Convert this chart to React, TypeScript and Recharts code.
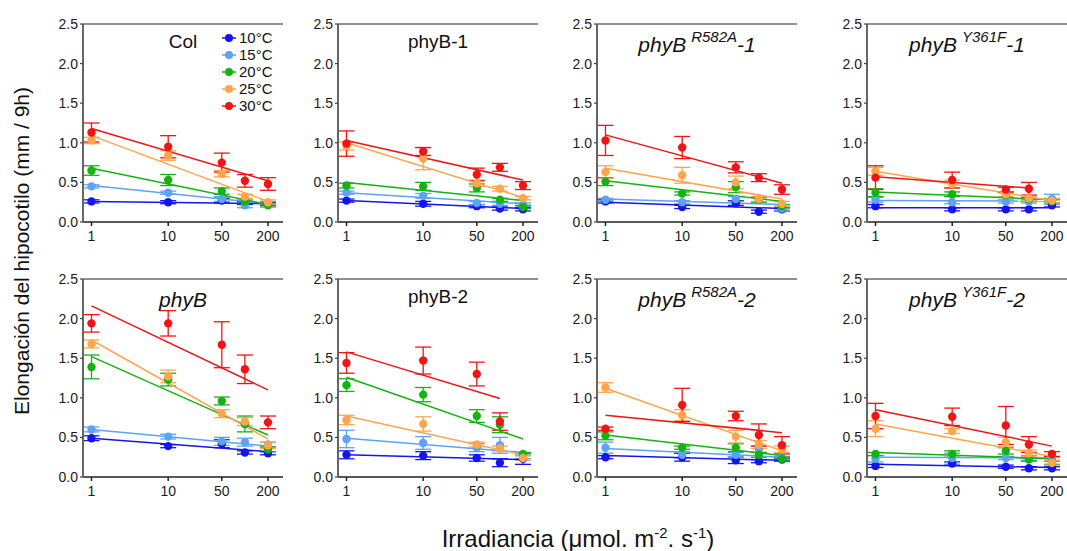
import React from 'react';
import { ComposedChart, Scatter, Line, XAxis, YAxis, ErrorBar, ReferenceLine } from 'recharts';

// ---------- shared categories ----------
const irradiance = [1, 10, 50, 100, 200];
const xTicks = [1, 10, 50, 200];
const yTicks = [0, 0.5, 1, 1.5, 2, 2.5];
const temperatures = ['10°C', '15°C', '20°C', '25°C', '30°C'];
const seriesColors = ['#1414f0', '#5ea2f2', '#12b312', '#ffa54d', '#f21414'];

// ---------- Col ----------
const colMeans = [
  [0.26, 0.25, 0.27, 0.24, 0.23],
  [0.45, 0.37, 0.29, 0.21, 0.24],
  [0.65, 0.53, 0.39, 0.26, 0.21],
  [1.03, 0.84, 0.61, 0.32, 0.25],
  [1.13, 0.95, 0.75, 0.52, 0.48],
];
const colErrors = [
  [0.02, 0.02, 0.03, 0.02, 0.02],
  [0.02, 0.02, 0.03, 0.03, 0.02],
  [0.06, 0.07, 0.04, 0.03, 0.02],
  [0.04, 0.06, 0.04, 0.03, 0.03],
  [0.12, 0.14, 0.12, 0.08, 0.08],
];
const colFits = [[0.26, 0.23], [0.46, 0.23], [0.68, 0.22], [1.09, 0.26], [1.18, 0.52]];
const colFitEnds = [200, 200, 200, 200, 200];

// ---------- phyB-1 ----------
const phyB1Means = [
  [0.27, 0.23, 0.2, 0.17, 0.16],
  [0.37, 0.33, 0.24, 0.23, 0.22],
  [0.46, 0.45, 0.43, 0.28, 0.19],
  [0.96, 0.8, 0.49, 0.42, 0.3],
  [0.99, 0.89, 0.6, 0.69, 0.46],
];
const phyB1Errors = [
  [0.02, 0.03, 0.02, 0.02, 0.02],
  [0.02, 0.03, 0.02, 0.02, 0.02],
  [0.03, 0.05, 0.05, 0.02, 0.02],
  [0.05, 0.14, 0.04, 0.03, 0.02],
  [0.16, 0.05, 0.08, 0.05, 0.05],
];
const phyB1Fits = [[0.27, 0.17], [0.37, 0.23], [0.5, 0.27], [1.0, 0.31], [1.03, 0.53]];
const phyB1FitEnds = [200, 200, 200, 200, 200];

// ---------- phyB R582A-1 ----------
const r582a1Means = [
  [0.26, 0.19, 0.24, 0.13, 0.16],
  [0.28, 0.25, 0.29, 0.28, 0.17],
  [0.51, 0.36, 0.44, 0.28, 0.2],
  [0.63, 0.59, 0.5, 0.29, 0.23],
  [1.03, 0.94, 0.69, 0.56, 0.41],
];
const r582a1Errors = [
  [0.02, 0.02, 0.03, 0.02, 0.02],
  [0.02, 0.02, 0.03, 0.03, 0.02],
  [0.05, 0.02, 0.07, 0.03, 0.02],
  [0.08, 0.1, 0.08, 0.03, 0.03],
  [0.19, 0.14, 0.07, 0.05, 0.06],
];
const r582a1Fits = [[0.25, 0.17], [0.29, 0.22], [0.52, 0.26], [0.68, 0.29], [1.1, 0.49]];
const r582a1FitEnds = [200, 200, 200, 200, 200];

// ---------- phyB Y361F-1 ----------
const y361f1Means = [
  [0.2, 0.16, 0.16, 0.16, 0.21],
  [0.28, 0.25, 0.26, 0.26, 0.29],
  [0.37, 0.35, 0.34, 0.29, 0.26],
  [0.64, 0.48, 0.35, 0.3, 0.27],
  [0.56, 0.53, 0.41, 0.42, null],
];
const y361f1Errors = [
  [0.02, 0.02, 0.02, 0.02, 0.02],
  [0.03, 0.02, 0.02, 0.02, 0.06],
  [0.05, 0.03, 0.03, 0.02, 0.02],
  [0.05, 0.05, 0.03, 0.03, 0.03],
  [0.15, 0.1, 0.03, 0.08, null],
];
const y361f1Fits = [[0.18, 0.18], [0.27, 0.265], [0.38, 0.28], [0.64, 0.27], [0.57, 0.43]];
const y361f1FitEnds = [200, 200, 200, 200, 100];

// ---------- phyB ----------
const phyBMeans = [
  [0.49, 0.39, 0.42, 0.31, 0.3],
  [0.6, 0.51, 0.45, 0.44, 0.41],
  [1.39, 1.23, 0.96, 0.67, 0.35],
  [1.68, 1.27, 0.8, 0.7, 0.4],
  [1.94, 1.94, 1.67, 1.36, 0.69],
];
const phyBErrors = [
  [0.03, 0.02, 0.05, 0.02, 0.02],
  [0.03, 0.03, 0.05, 0.05, 0.03],
  [0.15, 0.08, 0.05, 0.1, 0.03],
  [0.05, 0.08, 0.05, 0.05, 0.04],
  [0.11, 0.16, 0.29, 0.18, 0.08],
];
const phyBFits = [[0.49, 0.32], [0.6, 0.39], [1.52, 0.53], [1.73, 0.48], [2.16, 1.1]];
const phyBFitEnds = [200, 200, 200, 200, 200];

// ---------- phyB-2 ----------
const phyB2Means = [
  [0.28, 0.27, 0.24, 0.18, 0.23],
  [0.48, 0.43, 0.37, 0.4, 0.26],
  [1.16, 1.04, 0.77, 0.66, 0.29],
  [0.72, 0.67, 0.41, 0.36, 0.24],
  [1.44, 1.47, 1.3, 0.7, null],
];
const phyB2Errors = [
  [0.05, 0.05, 0.04, 0.05, 0.07],
  [0.11, 0.08, 0.05, 0.1, 0.03],
  [0.08, 0.09, 0.08, 0.1, 0.02],
  [0.06, 0.09, 0.03, 0.03, 0.03],
  [0.13, 0.17, 0.15, 0.11, null],
];
const phyB2Fits = [[0.28, 0.22], [0.49, 0.31], [1.26, 0.48], [0.77, 0.28], [1.58, 0.99]];
const phyB2FitEnds = [200, 200, 200, 200, 100];

// ---------- phyB R582A-2 ----------
const r582a2Means = [
  [0.25, 0.25, 0.21, 0.2, 0.22],
  [0.37, 0.28, 0.28, 0.35, 0.24],
  [0.52, 0.37, 0.37, 0.28, 0.23],
  [1.13, 0.78, 0.51, 0.41, 0.35],
  [0.61, 0.91, 0.77, 0.53, 0.4],
];
const r582a2Errors = [
  [0.02, 0.05, 0.04, 0.02, 0.02],
  [0.07, 0.04, 0.03, 0.04, 0.02],
  [0.05, 0.02, 0.05, 0.03, 0.02],
  [0.06, 0.07, 0.08, 0.05, 0.04],
  [0.02, 0.21, 0.06, 0.14, 0.11],
];
const r582a2Fits = [[0.27, 0.21], [0.36, 0.25], [0.53, 0.27], [1.12, 0.33], [0.78, 0.56]];
const r582a2FitEnds = [200, 200, 200, 200, 200];

// ---------- phyB Y361F-2 ----------
const y361f2Means = [
  [0.14, 0.17, 0.13, 0.11, 0.11],
  [0.23, 0.24, 0.24, 0.24, 0.23],
  [0.29, 0.29, 0.33, 0.22, 0.18],
  [0.61, 0.58, 0.44, 0.3, 0.18],
  [0.77, 0.76, 0.65, 0.41, 0.29],
];
const y361f2Errors = [
  [0.02, 0.02, 0.02, 0.02, 0.02],
  [0.04, 0.06, 0.02, 0.03, 0.02],
  [0.02, 0.04, 0.04, 0.02, 0.02],
  [0.1, 0.03, 0.06, 0.04, 0.03],
  [0.16, 0.11, 0.24, 0.1, 0.03],
];
const y361f2Fits = [[0.16, 0.12], [0.25, 0.24], [0.31, 0.23], [0.67, 0.26], [0.85, 0.39]];
const y361f2FitEnds = [200, 200, 200, 200, 200];

type Title = { main: string; sup?: string; suffix?: string; italic: boolean };

const panels = [
  { title: { main: 'Col', italic: false } as Title, means: colMeans, errors: colErrors, fits: colFits, fitEnds: colFitEnds },
  { title: { main: 'phyB-1', italic: false } as Title, means: phyB1Means, errors: phyB1Errors, fits: phyB1Fits, fitEnds: phyB1FitEnds },
  { title: { main: 'phyB', sup: 'R582A', suffix: '-1', italic: true } as Title, means: r582a1Means, errors: r582a1Errors, fits: r582a1Fits, fitEnds: r582a1FitEnds },
  { title: { main: 'phyB', sup: 'Y361F', suffix: '-1', italic: true } as Title, means: y361f1Means, errors: y361f1Errors, fits: y361f1Fits, fitEnds: y361f1FitEnds },
  { title: { main: 'phyB', italic: true } as Title, means: phyBMeans, errors: phyBErrors, fits: phyBFits, fitEnds: phyBFitEnds },
  { title: { main: 'phyB-2', italic: false } as Title, means: phyB2Means, errors: phyB2Errors, fits: phyB2Fits, fitEnds: phyB2FitEnds },
  { title: { main: 'phyB', sup: 'R582A', suffix: '-2', italic: true } as Title, means: r582a2Means, errors: r582a2Errors, fits: r582a2Fits, fitEnds: r582a2FitEnds },
  { title: { main: 'phyB', sup: 'Y361F', suffix: '-2', italic: true } as Title, means: y361f2Means, errors: y361f2Errors, fits: y361f2Fits, fitEnds: y361f2FitEnds },
];

// ---------- layout ----------
const COL_LEFT = [83, 338, 597, 867];
const ROW_TOP = [24, 279];
const PLOT_W = 200;
const PLOT_H = 198;
const Y_AXIS_W = 60;
const M_TOP = 14;
const FONT = '"Liberation Sans", Arial, Helvetica, sans-serif';

function Panel({ panel, left, top }: any) {
  const series = temperatures.map((t, s) => {
    const points = irradiance
      .map((x, i) => (panel.means[s][i] == null ? null : { x, y: panel.means[s][i], e: panel.errors[s][i] }))
      .filter(Boolean);
    const fit = [
      { x: irradiance[0], y: panel.fits[s][0] },
      { x: panel.fitEnds[s], y: panel.fits[s][1] },
    ];
    return { name: t, color: seriesColors[s], points, fit };
  });
  return (
    <div style={{ position: 'absolute', left: left - Y_AXIS_W, top: top - M_TOP }}>
      <ComposedChart
        width={Y_AXIS_W + PLOT_W + 20}
        height={M_TOP + PLOT_H + 30 + 18}
        margin={{ top: M_TOP, right: 20, bottom: 18, left: 0 }}
        style={{ fontFamily: FONT }}
      >
        <XAxis
          dataKey="x"
          type="number"
          scale="log"
          domain={[0.775, 314]}
          allowDataOverflow
          ticks={xTicks}
          interval={0}
          height={30}
          tickSize={4}
          tickMargin={5}
          tick={{ fontSize: 14, fill: '#1a1a1a', fontFamily: FONT }}
          axisLine={{ stroke: '#222', strokeWidth: 1.5 }}
          tickLine={{ stroke: '#222', strokeWidth: 1.5 }}
        />
        <YAxis
          dataKey="y"
          type="number"
          domain={[0, 2.5]}
          allowDataOverflow
          ticks={yTicks}
          interval={0}
          width={Y_AXIS_W}
          tickSize={3}
          tickMargin={2}
          tickFormatter={(v: number) => v.toFixed(1)}
          tick={{ fontSize: 14, fill: '#1a1a1a', fontFamily: FONT }}
          axisLine={{ stroke: '#666', strokeWidth: 2 }}
          tickLine={{ stroke: '#444', strokeWidth: 1.2 }}
        />
        <ReferenceLine y={2.5} stroke="#222" strokeWidth={1.2} />
        {series.map((s) => (
          <Scatter
            key={'p' + s.name}
            name={s.name}
            data={s.points}
            fill={s.color}
            isAnimationActive={false}
            shape={(p: any) => <circle cx={p.cx} cy={p.cy} r={4.2} fill={s.color} />}
          >
            <ErrorBar dataKey="e" direction="y" width={8} stroke={s.color} strokeWidth={1.3} />
          </Scatter>
        ))}
        {series.map((s) => (
          <Line
            key={'f' + s.name}
            data={s.fit}
            dataKey="y"
            type="linear"
            stroke={s.color}
            strokeWidth={1.5}
            dot={false}
            activeDot={false}
            isAnimationActive={false}
            legendType="none"
          />
        ))}
      </ComposedChart>
    </div>
  );
}

function PanelTitle({ title, cx, row }: { title: Title; cx: number; row: number }) {
  if (!title.italic) {
    return (
      <text x={cx} y={ROW_TOP[row] + 24} textAnchor="middle" fontSize={19} fill="#111">
        {title.main}
      </text>
    );
  }
  return (
    <text x={cx} y={ROW_TOP[row] + 28} textAnchor="middle" fontSize={21} fontStyle="italic" fill="#111">
      <tspan>{title.main}</tspan>
      {title.sup ? (
        <tspan dx={5} dy={-10} fontSize={15}>
          {title.sup}
        </tspan>
      ) : null}
      {title.suffix ? <tspan dy={10}>{title.suffix}</tspan> : null}
    </text>
  );
}

export default function App() {
  return (
    <div style={{ position: 'absolute', left: 0, top: 0, width: 1067, height: 551, background: '#fff', fontFamily: FONT }}>
      {panels.map((p, i) => (
        <Panel key={i} panel={p} left={COL_LEFT[i % 4]} top={ROW_TOP[Math.floor(i / 4)]} />
      ))}
      <svg width={1067} height={551} style={{ position: 'absolute', left: 0, top: 0, pointerEvents: 'none', fontFamily: FONT }}>
        {panels.map((p, i) => (
          <PanelTitle key={i} title={p.title} cx={COL_LEFT[i % 4] + PLOT_W / 2} row={Math.floor(i / 4)} />
        ))}
        {temperatures.map((t, i) => (
          <g key={t}>
            <line x1={222} x2={236} y1={38 + i * 17} y2={38 + i * 17} stroke={seriesColors[i]} strokeWidth={1.5} />
            <circle cx={229} cy={38 + i * 17} r={4} fill={seriesColors[i]} />
            <text x={239} y={38 + i * 17} dy="0.36em" fontSize={15} fill="#111">
              {t}
            </text>
          </g>
        ))}
        <text transform="translate(29,251) rotate(-90)" textAnchor="middle" fontSize={21} fill="#111">
          Elongación del hipocotilo (mm / 9h)
        </text>
        <text x={578} y={547} textAnchor="middle" fontSize={24} fill="#111">
          Irradiancia (μmol. m
          <tspan dy={-9} fontSize={15}>-2</tspan>
          <tspan dy={9}>. s</tspan>
          <tspan dy={-9} fontSize={15}>-1</tspan>
          <tspan dy={9}>)</tspan>
        </text>
      </svg>
    </div>
  );
}
